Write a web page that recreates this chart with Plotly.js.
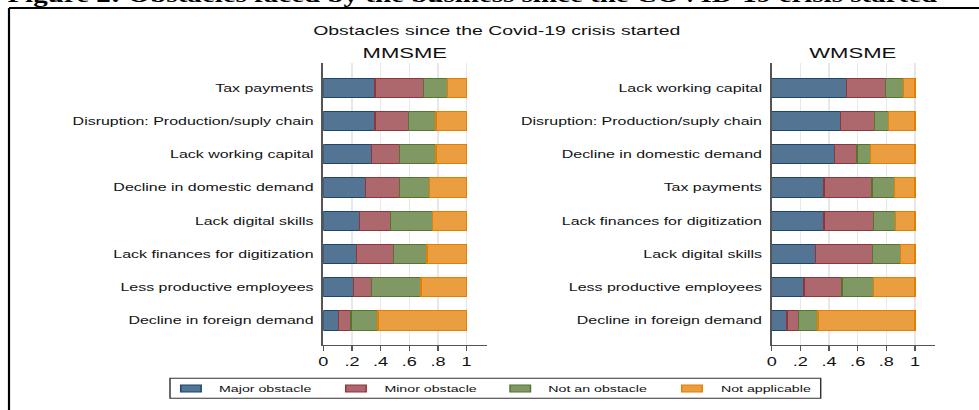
<!DOCTYPE html>
<html>
<head>
<meta charset="utf-8">
<script src="https://cdn.plot.ly/plotly-3.0.1.min.js"></script>
<style>
  html, body { margin: 0; padding: 0; background: #ffffff; overflow: hidden; }
  #wrap { width: 979px; height: 410px; overflow: hidden; position: relative; }
  #plot { width: 675px; height: 410px; transform-origin: 0 0; }
</style>
</head>
<body>
<div id="wrap"><div id="plot"></div></div>
<script>
// ---- data ----
const seriesNames = ["Major obstacle", "Minor obstacle", "Not an obstacle", "Not applicable"];

const catsM = ["Tax payments", "Disruption: Production/suply chain", "Lack working capital",
  "Decline in domestic demand", "Lack digital skills", "Lack finances for digitization",
  "Less productive employees", "Decline in foreign demand"];
const majorM = [0.360, 0.360, 0.337, 0.296, 0.251, 0.230, 0.212, 0.105];
const minorM = [0.340, 0.235, 0.193, 0.234, 0.216, 0.258, 0.125, 0.088];
const notM   = [0.167, 0.190, 0.256, 0.212, 0.296, 0.235, 0.344, 0.188];
const naM    = [0.133, 0.215, 0.214, 0.258, 0.237, 0.277, 0.319, 0.619];

const catsW = ["Lack working capital", "Disruption: Production/suply chain", "Decline in domestic demand",
  "Tax payments", "Lack finances for digitization", "Lack digital skills",
  "Less productive employees", "Decline in foreign demand"];
const majorW = [0.523, 0.479, 0.440, 0.365, 0.365, 0.307, 0.225, 0.107];
const minorW = [0.272, 0.240, 0.155, 0.335, 0.347, 0.398, 0.266, 0.081];
const notW   = [0.126, 0.095, 0.093, 0.156, 0.151, 0.195, 0.221, 0.135];
const naW    = [0.079, 0.186, 0.312, 0.144, 0.137, 0.100, 0.288, 0.677];

const tickVals = [0, 0.2, 0.4, 0.6, 0.8, 1];
const tickText = ["0", ".2", ".4", ".6", ".8", "1"];

const mainTitle = "Obstacles since the Covid-19 crisis started";
const panelTitles = ["MMSME", "WMSME"];
const figCaption = "Figure 2: Obstacles faced by the business since the COVID-19 crisis started";

// ---- styling ----
const fills = ["rgb(83,117,147)", "rgb(172,104,108)", "rgb(128,152,99)", "rgb(234,158,64)"];
const edges = ["rgb(26,71,111)", "rgb(144,53,59)", "rgb(85,117,47)", "rgb(227,126,0)"];
const FONT = "Liberation Sans, Arial, sans-serif";
const PW = 979, PH = 410;
const W = 675;
const S = PW / W;
document.getElementById('plot').style.transform = 'scaleX(' + S + ')';

const fx = px => px / PW;
const fy = py => 1 - py / PH;

const dataM = [majorM, minorM, notM, naM];
const dataW = [majorW, minorW, notW, naW];

const traces = [];
dataM.forEach((vals, i) => {
  traces.push({
    type: 'bar', orientation: 'h', x: vals, y: catsM, name: seriesNames[i],
    xaxis: 'x', yaxis: 'y', width: 0.58,
    marker: { color: fills[i], line: { color: edges[i], width: 1 } },
    hoverinfo: 'skip', showlegend: false
  });
});
dataW.forEach((vals, i) => {
  traces.push({
    type: 'bar', orientation: 'h', x: vals, y: catsW, name: seriesNames[i],
    xaxis: 'x2', yaxis: 'y2', width: 0.58,
    marker: { color: fills[i], line: { color: edges[i], width: 1 } },
    hoverinfo: 'skip', showlegend: false
  });
});

function xax(domain, anchor) {
  return {
    domain: domain, anchor: anchor, range: [0, 1.14], fixedrange: true,
    tickmode: 'array', tickvals: tickVals, ticktext: tickText,
    ticks: 'outside', ticklen: 5, tickwidth: 1, tickcolor: '#555',
    showline: true, linecolor: '#555', linewidth: 1,
    showgrid: true, gridcolor: '#e8e8e8', gridwidth: 1, zeroline: false,
    tickfont: { family: FONT, size: 12.5, color: '#111' }, automargin: false
  };
}
function yax(domain, anchor, cats) {
  return {
    domain: domain, anchor: anchor, type: 'category', categoryorder: 'array', categoryarray: cats,
    range: [7.75, -0.75], fixedrange: true,
    ticks: '', showline: true, linecolor: '#555', linewidth: 1.5,
    showgrid: false, zeroline: false, ticklabelstandoff: 3,
    tickfont: { family: FONT, size: 11, color: '#111' }, automargin: false
  };
}

const yDom = [fy(345.3), fy(63)];
const layout = {
  width: W, height: PH,
  margin: { l: 0, r: 0, t: 0, b: 0 },
  paper_bgcolor: '#ffffff', plot_bgcolor: '#ffffff',
  barmode: 'stack', showlegend: false,
  xaxis: xax([fx(323.3), fx(486.7)], 'y'),
  yaxis: yax(yDom, 'x', catsM),
  xaxis2: xax([fx(771.7), fx(935)], 'y2'),
  yaxis2: yax(yDom, 'x2', catsW),
  shapes: [],
  annotations: []
};

// outer frame
layout.shapes.push({ type: 'line', xref: 'paper', yref: 'paper', x0: fx(9), x1: fx(9), y0: fy(412), y1: fy(8), line: { color: '#000', width: 1.5 } });
layout.shapes.push({ type: 'line', xref: 'paper', yref: 'paper', x0: fx(9), x1: fx(985), y0: fy(8), y1: fy(8), line: { color: '#000', width: 2 } });

// caption (cut off at the top, as in the reference)
layout.annotations.push({ xref: 'paper', yref: 'paper', x: fx(472), y: fy(9), xanchor: 'center', yanchor: 'bottom',
  text: '<b>' + figCaption + '</b>', showarrow: false,
  font: { family: 'Liberation Serif, Times New Roman, serif', size: 20, color: '#000' } });

// titles
layout.annotations.push({ xref: 'paper', yref: 'paper', x: fx(496.5), y: fy(31), xanchor: 'center', yanchor: 'middle',
  text: mainTitle, showarrow: false, font: { family: FONT, size: 13.4, color: '#111' } });
layout.annotations.push({ xref: 'paper', yref: 'paper', x: fx(405), y: fy(52.5), xanchor: 'center', yanchor: 'middle',
  text: panelTitles[0], showarrow: false, font: { family: FONT, size: 15.2, color: '#111' } });
layout.annotations.push({ xref: 'paper', yref: 'paper', x: fx(853.4), y: fy(52.5), xanchor: 'center', yanchor: 'middle',
  text: panelTitles[1], showarrow: false, font: { family: FONT, size: 15.2, color: '#111' } });

// legend (drawn box)
layout.shapes.push({ type: 'rect', xref: 'paper', yref: 'paper', x0: fx(170), x1: fx(820.7), y0: fy(398.3), y1: fy(378.3),
  line: { color: '#333', width: 1 }, fillcolor: 'rgba(0,0,0,0)' });
const swX = [180.7, 345.7, 510, 681.7];
const txX = [215.7, 381, 545.7, 717.3];
seriesNames.forEach((nm, i) => {
  layout.shapes.push({ type: 'rect', xref: 'paper', yref: 'paper', x0: fx(swX[i]), x1: fx(swX[i] + 20.5), y0: fy(392), y1: fy(385),
    line: { color: edges[i], width: 1 }, fillcolor: fills[i] });
  layout.annotations.push({ xref: 'paper', yref: 'paper', x: fx(txX[i]), y: fy(388.5), xanchor: 'left', yanchor: 'middle',
    text: nm, showarrow: false, font: { family: FONT, size: 9.8, color: '#111' } });
});

Plotly.newPlot('plot', traces, layout, { displayModeBar: false, staticPlot: true });
</script>
</body>
</html>
